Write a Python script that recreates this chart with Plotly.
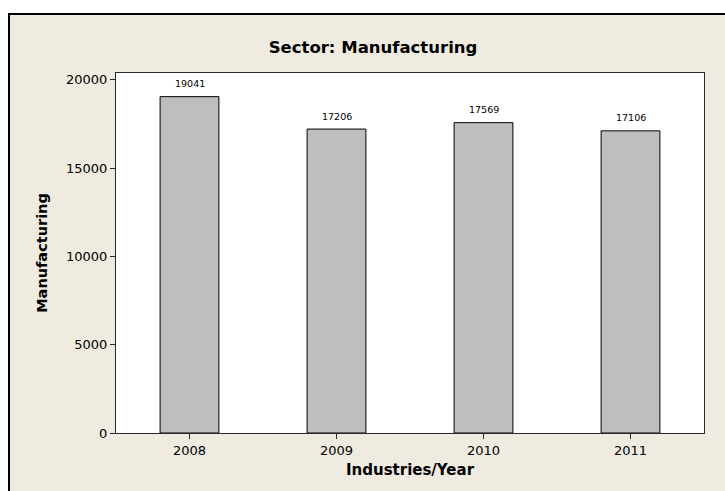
import plotly.graph_objects as go

# Manufacturing output by year
years = ["2008", "2009", "2010", "2011"]
values = [19041, 17206, 17569, 17106]
y_ticks = [0, 5000, 10000, 15000, 20000]

W, H = 725, 491
ML, MR, MT, MB = 116, 21, 73, 58
pw = W - ML - MR
ph = H - MT - MB

def px_to_paper_x(px):
    return (px - ML) / pw

def px_to_paper_y(py):
    return (H - MB - py) / ph

font_family = "DejaVu Sans"
BEIGE = "#EFEBE1"

fig = go.Figure()
fig.add_trace(go.Bar(
    x=years,
    y=values,
    width=0.4,
    marker=dict(color="#BEBEBE", line=dict(color="#000000", width=1)),
    hoverinfo="x+y",
))

# value labels above each bar (category index as x position)
for i, v in enumerate(values):
    fig.add_annotation(
        x=i, y=v, xref="x", yref="y", text=str(v), showarrow=False, yshift=13,
        font=dict(family=font_family, size=9.5, color="#000000"),
    )

# white margin strips at the top and left edge, then the black frame lines
fig.add_shape(type="rect", xref="paper", yref="paper", layer="above",
              x0=px_to_paper_x(-5), x1=px_to_paper_x(W + 5),
              y0=px_to_paper_y(13), y1=px_to_paper_y(-5),
              fillcolor="#FFFFFF", line=dict(width=0))
fig.add_shape(type="rect", xref="paper", yref="paper", layer="above",
              x0=px_to_paper_x(-5), x1=px_to_paper_x(8),
              y0=px_to_paper_y(H + 5), y1=px_to_paper_y(13),
              fillcolor="#FFFFFF", line=dict(width=0))
fig.add_shape(type="line", xref="paper", yref="paper", layer="above",
              x0=px_to_paper_x(8), x1=px_to_paper_x(W + 5),
              y0=px_to_paper_y(14), y1=px_to_paper_y(14),
              line=dict(color="#000000", width=2))
fig.add_shape(type="line", xref="paper", yref="paper", layer="above",
              x0=px_to_paper_x(9), x1=px_to_paper_x(9),
              y0=px_to_paper_y(H + 5), y1=px_to_paper_y(13),
              line=dict(color="#000000", width=2))

fig.update_layout(
    width=W, height=H,
    margin=dict(l=ML, r=MR, t=MT, b=MB),
    paper_bgcolor=BEIGE,
    plot_bgcolor="#FFFFFF",
    showlegend=False,
    title=dict(
        text="<b>Sector: Manufacturing</b>",
        x=px_to_paper_x(373), xref="paper", xanchor="center",
        y=1 - 47 / H, yref="container", yanchor="middle",
        font=dict(family=font_family, size=16.5, color="#000000"),
    ),
    font=dict(family=font_family, size=13, color="#000000"),
)

fig.update_xaxes(
    type="category",
    range=[-0.5, 3.5],
    showline=True, linecolor="#2A2A2A", linewidth=1, mirror=True,
    ticks="outside", ticklen=5, tickcolor="#2A2A2A",
    tickfont=dict(family=font_family, size=13, color="#000000"),
    title=dict(text="<b>Industries/Year</b>", standoff=7,
               font=dict(family=font_family, size=15, color="#000000")),
    showgrid=False,
)
fig.update_yaxes(
    range=[0, 20380],
    tickvals=y_ticks,
    ticktext=[str(t) for t in y_ticks],
    showline=True, linecolor="#2A2A2A", linewidth=1, mirror=True,
    ticks="outside", ticklen=5, tickcolor="#2A2A2A",
    tickfont=dict(family=font_family, size=13, color="#000000"),
    title=dict(text="<b>Manufacturing</b>", standoff=14,
               font=dict(family=font_family, size=14.5, color="#000000")),
    showgrid=False, zeroline=False,
)

fig.write_html("out.html")
